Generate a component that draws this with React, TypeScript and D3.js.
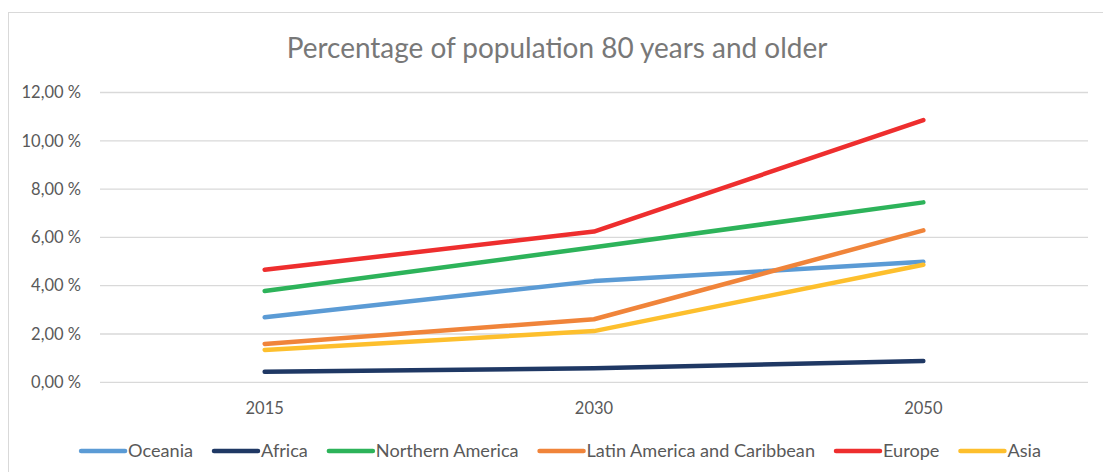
import React, { useEffect, useRef } from "react";
import * as d3 from "d3";

const years = ["2015", "2030", "2050"];
const seriesNames = ["Oceania", "Africa", "Northern America", "Latin America and Caribbean", "Europe", "Asia"];
const seriesColors = ["#5b9bd5", "#1f3864", "#2db35a", "#f0843a", "#ee2e2e", "#fdbf2d"];
const oceania = [2.69, 4.19, 4.99];
const africa = [0.44, 0.58, 0.88];
const northernAmerica = [3.78, 5.59, 7.45];
const latinAmerica = [1.59, 2.61, 6.29];
const europe = [4.66, 6.24, 10.86];
const asia = [1.34, 2.12, 4.87];
const seriesValues = [oceania, africa, northernAmerica, latinAmerica, europe, asia];
const yTicks = [0, 2, 4, 6, 8, 10, 12];
const title = "Percentage of population 80 years and older";

const W = 1103;
const H = 472;
const FONT = "Lato, 'Open Sans', sans-serif";

export default function App() {
  const ref = useRef<SVGSVGElement | null>(null);

  useEffect(() => {
    const svg = d3.select(ref.current);
    svg.selectAll("*").remove();

    const left = 100, right = 1088, top = 92.5, bottom = 382.3;

    // outer chart border
    svg.append("rect")
      .attr("x", 8.5).attr("y", 12.5)
      .attr("width", 1200).attr("height", 600)
      .attr("fill", "#fff").attr("stroke", "#d9d9d9").attr("stroke-width", 1);

    const titleEl = svg.append("text")
      .attr("x", 557).attr("y", 58)
      .attr("text-anchor", "middle")
      .attr("font-family", FONT).attr("font-weight", 400)
      .attr("font-size", 26).attr("fill", "#787878")
      .text(title);
    const tw0 = (titleEl.node() as SVGTextElement).getComputedTextLength();
    if (tw0 > 0) titleEl.attr("font-size", 26 * 541 / tw0);

    const x = d3.scaleBand<string>().domain(years).range([left, right]);
    const y = d3.scaleLinear().domain([0, 12]).range([bottom, top]);

    const grid = svg.append("g");
    yTicks.forEach((t) => {
      grid.append("line")
        .attr("x1", left).attr("x2", right)
        .attr("y1", y(t)).attr("y2", y(t))
        .attr("stroke", "#d9d9d9").attr("stroke-width", 1.3);
      grid.append("text")
        .attr("x", 81).attr("y", y(t)).attr("dy", "0.35em")
        .attr("text-anchor", "end")
        .attr("font-family", FONT).attr("font-size", 16.5)
        .attr("fill", "#595959")
        .text(t.toFixed(2).replace(".", ",") + " %");
    });

    years.forEach((yr) => {
      svg.append("text")
        .attr("x", (x(yr) ?? 0) + x.bandwidth() / 2).attr("y", 408).attr("dy", "0.35em")
        .attr("text-anchor", "middle")
        .attr("font-family", FONT).attr("font-size", 16.5)
        .attr("fill", "#595959")
        .text(yr);
    });

    const line = d3.line<number>()
      .x((_, i) => (x(years[i]) ?? 0) + x.bandwidth() / 2)
      .y((d) => y(d));

    seriesValues.forEach((vals, i) => {
      svg.append("path")
        .attr("d", line(vals) ?? "")
        .attr("fill", "none")
        .attr("stroke", seriesColors[i])
        .attr("stroke-width", 4.5)
        .attr("stroke-linecap", "round")
        .attr("stroke-linejoin", "round");
    });

    // legend
    const lg = svg.append("g");
    const lineLen = 44, gapText = 3, gapEntry = 21, ly = 451;
    const targetTotal = 960;
    const build = (fs: number) => {
      lg.selectAll("*").remove();
      let cx = 0;
      seriesNames.forEach((name, i) => {
        const g = lg.append("g");
        g.append("line")
          .attr("x1", 0).attr("x2", lineLen)
          .attr("y1", ly).attr("y2", ly)
          .attr("stroke", seriesColors[i]).attr("stroke-width", 4.5)
          .attr("stroke-linecap", "round");
        const t = g.append("text")
          .attr("x", lineLen + gapText).attr("y", ly).attr("dy", "0.35em")
          .attr("font-family", FONT).attr("font-size", fs)
          .attr("fill", "#595959")
          .text(name);
        const tw = (t.node() as SVGTextElement).getComputedTextLength();
        g.attr("transform", `translate(${cx},0)`);
        cx += lineLen + gapText + tw + gapEntry;
      });
      return cx - gapEntry;
    };
    const fixed = seriesNames.length * (lineLen + gapText) + (seriesNames.length - 1) * gapEntry;
    const t1 = build(16.5);
    const textW = t1 - fixed;
    const fs2 = textW > 0 ? 16.5 * (targetTotal - fixed) / textW : 16.5;
    const total = build(fs2);
    lg.attr("transform", `translate(${561 - total / 2},0)`);
  }, []);

  return (
    <svg
      ref={ref}
      width={W}
      height={H}
      style={{ position: "absolute", left: 0, top: 0, background: "#fff" }}
    />
  );
}
